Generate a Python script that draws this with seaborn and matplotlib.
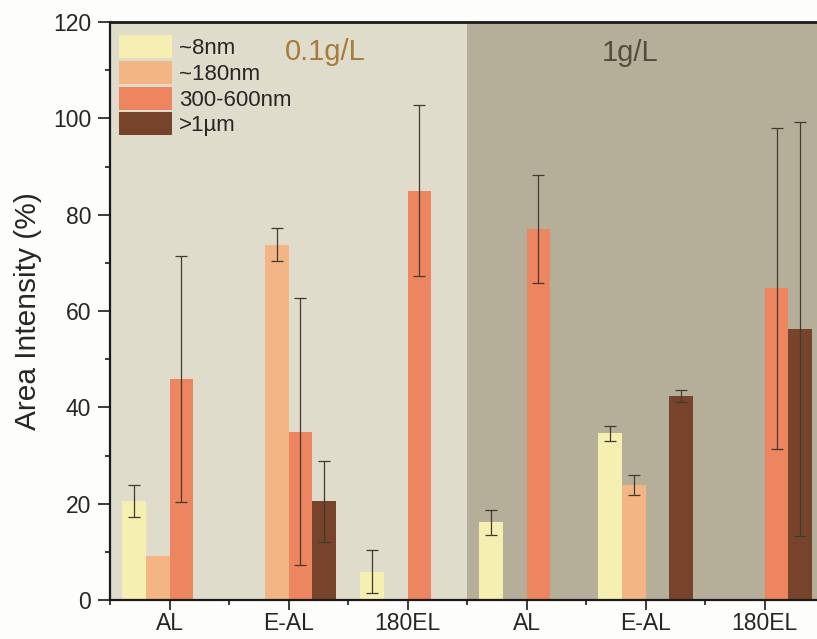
import numpy as np
import pandas as pd
import matplotlib
matplotlib.use("Agg")
import matplotlib.pyplot as plt
import seaborn as sns
from matplotlib.ticker import MultipleLocator
from matplotlib.colors import to_rgba
from matplotlib.container import BarContainer

# ---- data -------------------------------------------------------------
samples = ["AL", "E-AL", "180EL"]
concentrations = ["0.1g/L", "1g/L"]
sizes = ["~8nm", "~180nm", "300-600nm", ">1µm"]

nan = np.nan
# mean area intensity (%) per size class; rows follow `samples`
mean_low = [[20.5, 9.2, 45.9, nan],
            [nan, 73.8, 34.9, 20.5],
            [5.9, nan, 85.0, nan]]
err_low = [[3.3, nan, 25.5, nan],
           [nan, 3.5, 27.7, 8.4],
           [4.5, nan, 17.7, nan]]
mean_high = [[16.1, nan, 77.0, nan],
             [34.6, 23.9, nan, 42.4],
             [nan, nan, 64.7, 56.2]]
err_high = [[2.6, nan, 11.2, nan],
            [1.6, 2.0, nan, 1.3],
            [nan, nan, 33.3, 43.0]]

size_colors = ["#f5efb1", "#f2b583", "#ee8561", "#78432b"]
panel_colors = ["#dfdccb", "#b5af9a"]
label_colors = ["#a67b3c", "#554d3b"]

# ---- long-form table ---------------------------------------------------
rows = []
for conc, means, errs in zip(concentrations, [mean_low, mean_high], [err_low, err_high]):
    for s, m_row, e_row in zip(samples, means, errs):
        for size, m, e in zip(sizes, m_row, e_row):
            rows.append({"group": f"{s} ({conc})", "sample": s, "conc": conc,
                         "size": size, "value": m, "err": e})
df = pd.DataFrame(rows)
order = [f"{s} ({c})" for c in concentrations for s in samples]
plot_df = df.dropna(subset=["value"])

# ---- figure ------------------------------------------------------------
sns.set_style("ticks")
plt.rcParams["font.family"] = ["Liberation Sans", "DejaVu Sans"]

fig = plt.figure(figsize=(8.17, 6.39), dpi=100, facecolor="#fdfdfb")
ax = fig.add_axes([110 / 817, 39 / 639, 707 / 817, 578 / 639])

# shaded concentration panels
ax.axvspan(-0.5, 2.5, color=panel_colors[0], zorder=0, lw=0)
ax.axvspan(2.5, 6.0, color=panel_colors[1], zorder=0, lw=0)

palette = dict(zip(sizes, size_colors))
sns.barplot(data=plot_df, x="group", y="value", hue="size",
            order=order, hue_order=sizes, palette=palette,
            width=0.8, saturation=1, errorbar=None, linewidth=0,
            legend=True, ax=ax, zorder=2)

# error bars placed on the drawn bars
size_rgba = {s: np.array(to_rgba(c)) for s, c in palette.items()}
err_lookup = {(r.group, r.size): r.err for r in df.itertuples()}
bar_containers = [c for c in ax.containers if isinstance(c, BarContainer)]
for container in bar_containers:
    for bar in container:
        if bar is None:
            continue
        h = bar.get_height()
        if not np.isfinite(h):
            continue
        cx = bar.get_x() + bar.get_width() / 2
        fc = np.array(bar.get_facecolor())
        size = min(size_rgba, key=lambda s: float(np.sum((size_rgba[s] - fc) ** 2)))
        grp = order[int(round(cx))]
        e = err_lookup.get((grp, size), nan)
        if np.isfinite(e) and e > 0:
            ax.errorbar(cx, h, yerr=e, fmt="none", ecolor="#3e3b30",
                        elinewidth=0.9, capsize=4.3, capthick=0.9, zorder=3)

# axes styling
ax.set_xlim(-0.5, 5.44)
ax.set_ylim(0, 120)
ax.set_xticks(range(len(order)))
ax.set_xticklabels(samples * len(concentrations))
ax.xaxis.set_minor_locator(MultipleLocator(1, offset=0.5))
ax.yaxis.set_major_locator(MultipleLocator(20))
ax.yaxis.set_minor_locator(MultipleLocator(10))
ax.set_xlabel("")
ax.set_ylabel("Area Intensity (%)", fontsize=21.5, labelpad=8)

ax.tick_params(axis="y", which="major", labelsize=16.5, length=8.5, width=1.2,
               direction="out", pad=5, color="#1a1a1a")
ax.tick_params(axis="x", which="major", labelsize=16.5, length=7.5, width=1.2,
               direction="out", pad=1, color="#1a1a1a")
ax.tick_params(which="minor", length=3.8, width=1.2, direction="out",
               color="#1a1a1a")
ax.tick_params(top=False, right=False, which="both")

for side in ["left", "bottom", "top"]:
    ax.spines[side].set_visible(True)
    ax.spines[side].set_color("#1a1a1a")
    ax.spines[side].set_linewidth(1.6)
ax.spines["top"].set_linewidth(2.0)
ax.spines["right"].set_visible(False)
ax.grid(False)

# concentration labels
ax.text(0.966, 112.1, concentrations[0], fontsize=21, color=label_colors[0],
        ha="left", va="baseline")
ax.text(3.628, 112.0, concentrations[1], fontsize=21, color=label_colors[1],
        ha="left", va="baseline")

# legend
handles, labels = ax.get_legend_handles_labels()
ax.legend(handles, labels, loc="upper left",
          bbox_to_anchor=(9 / 707, 1 - 13 / 578), frameon=False,
          fontsize=16, handlelength=2.4, handleheight=1.22,
          labelspacing=0.08, handletextpad=0.3, borderpad=0,
          borderaxespad=0)

fig.savefig("out.png", dpi=100, facecolor=fig.get_facecolor())
